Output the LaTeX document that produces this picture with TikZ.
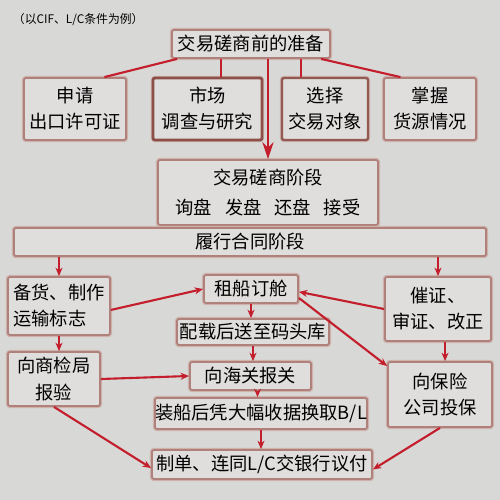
\documentclass[tikz,border=0pt]{standalone}
\usepackage{fontspec}
\setmainfont{Noto Sans CJK SC}
\usetikzlibrary{arrows.meta}

\definecolor{paper}{HTML}{D8D8D7}
\definecolor{boxfill}{HTML}{E0DEDD}
\definecolor{boxedge}{HTML}{B0807A}
\definecolor{boxglow}{HTML}{CDB2AE}
\definecolor{darkedge}{HTML}{8C5048}
\definecolor{linkred}{HTML}{C41E2C}

\begin{document}
\begin{tikzpicture}[x=0.025cm, y=-0.025cm,
    box/.style={draw=boxedge, line width=1.3pt, fill=boxfill, rounded corners=1.5pt,
      preaction={draw=boxglow, line width=3pt}, inner sep=0pt, align=center,
      font=\fontsize{13}{18.5}\selectfont},
    strongbox/.style={box, draw=darkedge, line width=2pt},
    link/.style={draw=linkred, line width=1.5pt},
    go/.style={link, -{Stealth[length=6pt,width=5pt]}},
    biggo/.style={link, -{Stealth[length=12pt,width=8pt]}}]
    \fill[paper] (0,0) rectangle (500,500);
    \node[anchor=west, font=\fontsize{8.4}{10}\selectfont] (note) at (8,20) {（以CIF、L/C条件为例）};

    \node[box, minimum width=3.95cm, minimum height=0.7cm] (prep) at (251,44) {交易磋商前的准备};
    \node[box, minimum width=2.55cm, minimum height=1.55cm] (lic) at (75,109) {申请\\出口许可证};
    \node[strongbox, minimum width=2.725cm, minimum height=1.55cm] (mkt) at (207.5,109) {市场\\调查与研究};
    \node[box, draw=darkedge!80!boxedge, line width=1.7pt, minimum width=2.15cm, minimum height=1.55cm] (obj) at (325,109) {选择\\交易对象};
    \node[box, minimum width=2.3cm, minimum height=1.55cm] (src) at (430,109) {掌握\\货源情况};
    \node[box, minimum width=5.5cm, minimum height=1.625cm, font=\fontsize{13}{22}\selectfont] (nego) at (268,192.5)
      {交易磋商阶段\\询盘\hspace{0.7em}发盘\hspace{0.7em}还盘\hspace{0.7em}接受};
    \node[box, minimum width=11.8cm, minimum height=0.7cm] (exec) at (250,242) {履行合同阶段};

    \node[box, align=left, minimum width=2.55cm, minimum height=1.45cm] (goods) at (59,306) {备货、制作\\运输标志};
    \node[box, minimum width=2.3cm, minimum height=1.35cm] (insp) at (54,379) {向商检局\\报验};
    \node[box, minimum width=2.35cm, minimum height=0.7cm] (ship) at (251,289) {租船订舱};
    \node[box, minimum width=3.8cm, minimum height=0.65cm] (load) at (253,332) {配载后送至码头库};
    \node[box, minimum width=3.025cm, minimum height=0.7cm] (cust) at (250.5,376) {向海关报关};
    \node[box, minimum width=5.3cm, minimum height=0.775cm] (bl) at (261,413.5) {装船后凭大幅收据换取B/L};
    \node[box, minimum width=5.5cm, minimum height=0.725cm] (pay) at (262,464.5) {制单、连同L/C交银行议付};
    \node[box, minimum width=2.65cm, minimum height=1.6cm] (lc) at (438,309) {催证、\\审证、改正};
    \node[box, minimum width=2.6cm, minimum height=1.625cm] (ins) at (440,394.5) {向保险\\公司投保};

    \draw[link] ([xshift=4.3pt]prep.south west) -- ([xshift=-16pt]lic.north east);
    \draw[link] ([xshift=9.6pt]mkt.north) -- ([xshift=9.6pt]mkt.north |- prep.south);
    \draw[link] ([xshift=-17pt]obj.north) -- ([xshift=-17pt]obj.north |- prep.south);
    \draw[link] ([xshift=-7pt]prep.south east) -- ([xshift=-21pt]src.north);
    \draw[biggo] (prep.south -| nego.north) -- (nego.north);

    \draw[go] (exec.south -| goods.north) -- (goods.north);
    \draw[go] (exec.south -| lc.north) -- (lc.north);
    \draw[go] (goods.south) -- (goods.south |- insp.north);
    \draw[go] ([yshift=-2.8pt]goods.east) -- (ship.west);
    \draw[go] (lc.west) -- ([yshift=-2pt]ship.east);
    \draw[go] ([yshift=-6.4pt]ship.east) -- ([yshift=-3.5pt]ins.north west);
    \draw[go] (ship.south) -- (ship.south |- load.north);
    \draw[go] (load.south) -- (load.south |- cust.north);
    \draw[go] ([xshift=5pt]cust.south) -- ([xshift=5pt]cust.south |- bl.north);
    \draw[go] (bl.south) -- (bl.south |- pay.north);
    \draw[go] (insp.east) -- (cust.west);
    \draw[go] (insp.south) -- ([yshift=-2.5pt]pay.west);
    \draw[go] ([xshift=5pt]lc.south) -- ([xshift=5pt]lc.south |- ins.north);
    \draw[go] (ins.south) -- ([yshift=-3.5pt]pay.east);
\end{tikzpicture}
\end{document}
